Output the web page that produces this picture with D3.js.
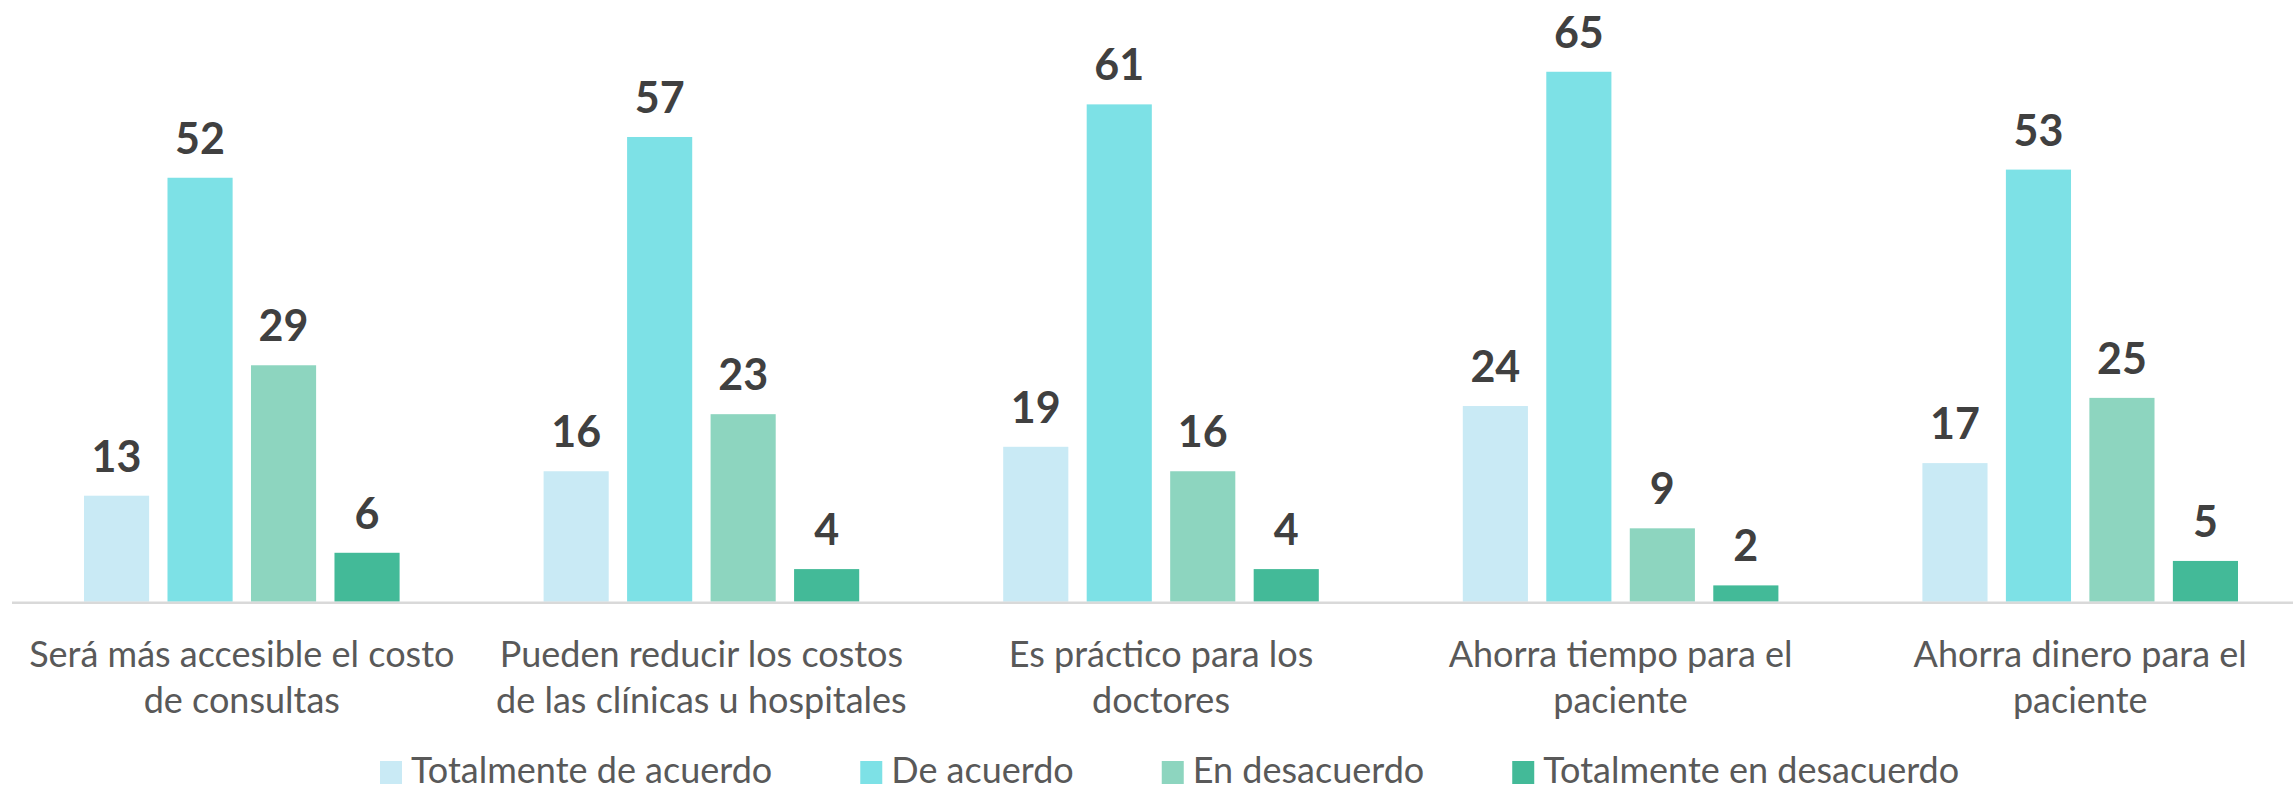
<!DOCTYPE html>
<html>
<head>
<meta charset="UTF-8">
<title>Opinión</title>
<style>
  body { margin: 0; background: #fff; overflow: hidden; }
  svg { display: block; font-family: Lato, "Open Sans", sans-serif; }
</style>
</head>
<body>
<svg id="chart"></svg>
<script src="https://cdn.jsdelivr.net/npm/d3@7"></script>
<script>
// data
var categories = [
  ["Será más accesible el costo", "de consultas"],
  ["Pueden reducir los costos", "de las clínicas u hospitales"],
  ["Es práctico para los", "doctores"],
  ["Ahorra tiempo para el", "paciente"],
  ["Ahorra dinero para el", "paciente"]
];
var seriesNames = ["Totalmente de acuerdo", "De acuerdo", "En desacuerdo", "Totalmente en desacuerdo"];
var totalmenteAcuerdo = [13, 16, 19, 24, 17];
var deAcuerdo = [52, 57, 61, 65, 53];
var enDesacuerdo = [29, 23, 16, 9, 25];
var totalmenteDesacuerdo = [6, 4, 4, 2, 5];
var colors = ["#C9EAF5", "#7DE1E6", "#8DD5BF", "#43BA98"];

var series = [totalmenteAcuerdo, deAcuerdo, enDesacuerdo, totalmenteDesacuerdo];

var W = 2293, H = 792;
var svg = d3.select("#chart").attr("width", W).attr("height", H);

// plot runs a little past the right edge, like the original
var x0 = d3.scaleBand().domain(d3.range(categories.length)).range([12, 2310]);
var x1 = d3.scaleBand().domain(d3.range(series.length))
  .range([72, x0.bandwidth() - 72]).paddingInner(0.22).paddingOuter(0);
var y = d3.scaleLinear().domain([0, 70]).range([601.7, 31]);

var groups = svg.selectAll("g.grp").data(categories).enter().append("g")
  .attr("class", "grp")
  .attr("transform", function (d, i) { return "translate(" + x0(i) + ",0)"; });

groups.each(function (c, i) {
  var g = d3.select(this);
  var vals = series.map(function (s, k) { return { k: k, v: s[i] }; });
  g.selectAll("rect").data(vals).enter().append("rect")
    .attr("x", function (d) { return x1(d.k); })
    .attr("y", function (d) { return y(d.v); })
    .attr("width", x1.bandwidth())
    .attr("height", function (d) { return y(0) - y(d.v); })
    .attr("fill", function (d) { return colors[d.k]; });
  g.selectAll("text.val").data(vals).enter().append("text")
    .attr("class", "val")
    .attr("x", function (d) { return x1(d.k) + x1.bandwidth() / 2; })
    .attr("y", function (d) { return y(d.v) - 24; })
    .attr("text-anchor", "middle")
    .attr("font-size", 43).attr("font-weight", 700).attr("fill", "#404040")
    .text(function (d) { return d.v; });
  // category label, two lines
  g.selectAll("text.cat").data(c).enter().append("text")
    .attr("class", "cat")
    .attr("x", x0.bandwidth() / 2)
    .attr("y", function (d, j) { return 667 + j * 46; })
    .attr("text-anchor", "middle")
    .attr("font-size", 36).attr("fill", "#595959")
    .text(function (d) { return d; });
});

// baseline
svg.append("line")
  .attr("x1", x0.range()[0]).attr("x2", x0.range()[1])
  .attr("y1", y(0) + 1).attr("y2", y(0) + 1)
  .attr("stroke", "#D9D9D9").attr("stroke-width", 2.5);

// legend
var legend = svg.append("g");
var lx = 380;
seriesNames.forEach(function (name, k) {
  legend.append("rect").attr("x", lx).attr("y", 761).attr("width", 22).attr("height", 23)
    .attr("fill", colors[k]);
  var t = legend.append("text").attr("x", lx + 31).attr("y", 783)
    .attr("font-size", 36).attr("fill", "#595959").text(name);
  lx += 31 + t.node().getComputedTextLength() + 88;
});
</script>
</body>
</html>
